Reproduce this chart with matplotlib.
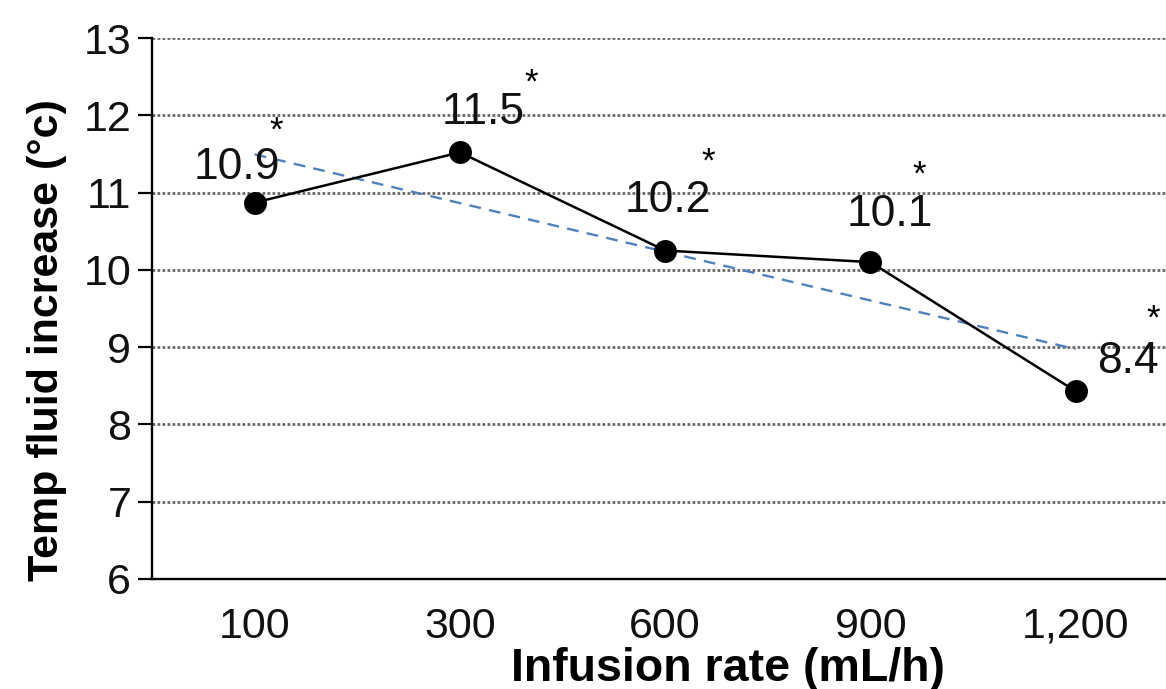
import numpy as np
import matplotlib
matplotlib.use("Agg")
import matplotlib.pyplot as plt

plt.rcParams['font.family'] = ['Liberation Sans', 'DejaVu Sans']

# Data
categories = ["100", "300", "600", "900", "1,200"]
values = [10.87, 11.52, 10.25, 10.10, 8.43]
value_labels = ["10.9", "11.5", "10.2", "10.1", "8.4"]
star_labels = ["*", "*", "*", "*", "*"]
y_ticks = [6, 7, 8, 9, 10, 11, 12, 13]

# label offsets (pixels) - style
label_off = [(-18, 35), (23, 40), (3, 50), (19, 48), (52, 30)]
star_off = [(22, 72), (71, 69), (43, 88), (49, 87), (78, 72)]

W, H = 1166, 689
fig = plt.figure(figsize=(W / 100, H / 100), dpi=100)
ax = fig.add_axes([152 / W, 1 - 579 / H, 1 - 152 / W, (579 - 38) / H])

x = np.arange(len(categories))

# trendline (linear fit)
coef = np.polyfit(x, values, 1)
ax.plot(x, np.polyval(coef, x), color="#4f81bd", lw=1.7, ls=(0, (5, 3.5)), zorder=2)

ax.plot(x, values, color="black", lw=1.8, marker="o", markersize=15.5,
        markerfacecolor="black", markeredgecolor="black", zorder=3)

for i, (v, lab) in enumerate(zip(values, value_labels)):
    ax.annotate(lab, (x[i], v), xytext=label_off[i], textcoords="offset pixels",
                ha="center", va="center", fontsize=32, color="#111111")
    ax.annotate(star_labels[i], (x[i], v), xytext=star_off[i], textcoords="offset pixels",
                ha="center", va="center", fontsize=25, color="black")

ax.set_xlim(-0.5, 4.44)
ax.set_ylim(6, 13)
ax.set_yticks(y_ticks)
ax.set_xticks(x)
ax.set_xticklabels(categories)
ax.tick_params(axis="x", length=0, pad=20, labelsize=31, colors="#111111")
ax.tick_params(axis="y", length=10, width=1.6, pad=5, labelsize=31, direction="out", colors="black")
for t in ax.get_yticklabels():
    t.set_color("#111111")

ax.yaxis.grid(True, ls=(0, (1, 0.8)), color="#666666", lw=2.0)
ax.set_axisbelow(True)
for s in ["top", "right"]:
    ax.spines[s].set_visible(False)
for s in ["left", "bottom"]:
    ax.spines[s].set_linewidth(1.7)
    ax.spines[s].set_color("black")

ax.set_xlabel("Infusion rate (mL/h)", fontsize=33.5, fontweight="bold")
ax.xaxis.set_label_coords(0.568, -0.125)
ax.set_ylabel("Temp fluid increase (°c)", fontsize=31, fontweight="bold")
ax.yaxis.set_label_coords(-0.084, 0.442)

fig.savefig("out.png", dpi=100)
